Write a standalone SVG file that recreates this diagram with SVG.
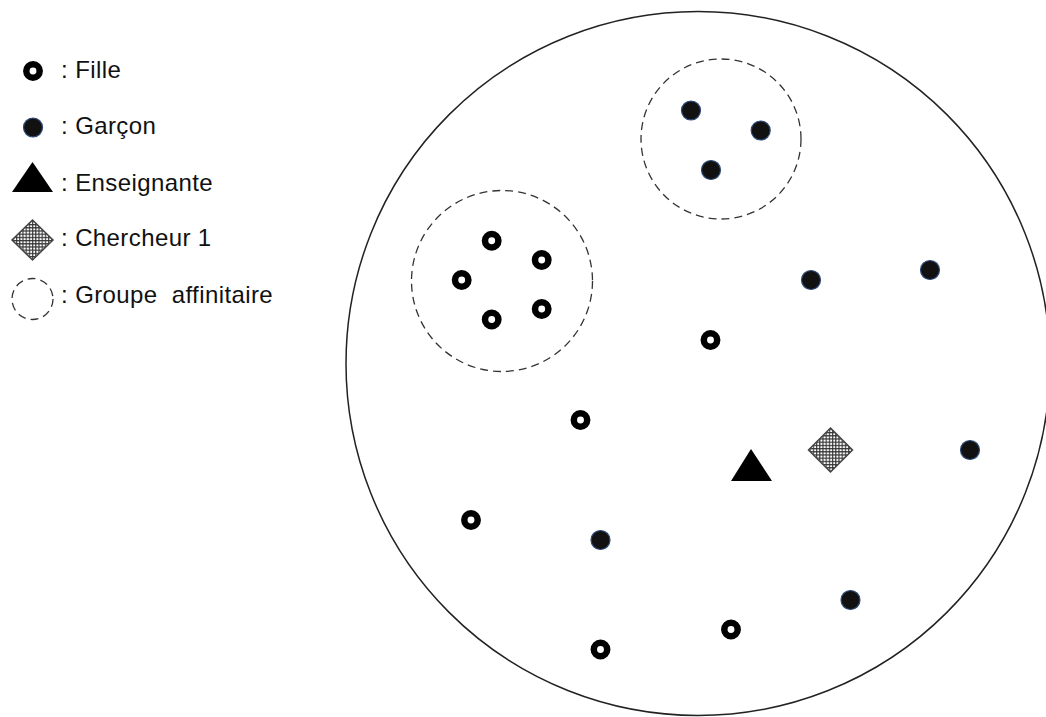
<svg xmlns="http://www.w3.org/2000/svg" width="1046" height="717" viewBox="0 0 1046 717">
<style>
.fille{fill:#fff;stroke:#000;stroke-width:6.5}
.garcon{fill:#111;stroke:#2f4a78;stroke-width:1.2}
.ens{fill:#000}
.cherch{fill:url(#hatch);stroke:#444;stroke-width:1.5}
.groupe{fill:none;stroke:#333;stroke-width:1.3;stroke-dasharray:8 5}
.lbl{font-family:"Liberation Sans",Arial,sans-serif;font-size:24px;letter-spacing:0.4px;fill:#111}
</style>
<defs>
<pattern id="hatch" width="3.2" height="3.2" patternUnits="userSpaceOnUse">
<rect width="3.2" height="3.2" fill="#fff"/>
<path d="M0 0.6H3.2M0.6 0V3.2" stroke="#333" stroke-width="1.1"/>
</pattern>
</defs>
<rect width="1046" height="717" fill="#fff"/>
<g id="legend">
<circle class="fille" cx="33" cy="71" r="6.7"/>
<text class="lbl" x="61" y="78">: Fille</text>
<circle class="garcon" cx="33" cy="127.5" r="9.5"/>
<text class="lbl" x="61" y="134">: Garçon</text>
<polygon class="ens" points="12,192 53,192 32.5,162"/>
<text class="lbl" x="61" y="191">: Enseignante</text>
<polygon class="cherch" points="32.5,220 53,240 32.5,260 12,240"/>
<text class="lbl" x="61" y="246">: Chercheur 1</text>
<circle class="groupe" cx="32.5" cy="299" r="20.5"/>
<text class="lbl" x="61" y="303" xml:space="preserve">: Groupe  affinitaire</text>
</g>
<g id="classe">
<circle cx="698" cy="363.5" r="352" fill="none" stroke="#222" stroke-width="1.5"/>
</g>
<g id="groupe1">
<circle class="groupe" cx="502" cy="281" r="90.5"/>
</g>
<g id="groupe2">
<circle class="groupe" cx="721" cy="139" r="80"/>
</g>
<g id="filles">
<circle class="fille" cx="491.7" cy="240.7" r="6.7"/>
<circle class="fille" cx="541.7" cy="260" r="6.7"/>
<circle class="fille" cx="461.7" cy="280" r="6.7"/>
<circle class="fille" cx="541.7" cy="309" r="6.7"/>
<circle class="fille" cx="491.7" cy="319.5" r="6.7"/>
<circle class="fille" cx="710.5" cy="340" r="6.7"/>
<circle class="fille" cx="580.5" cy="420" r="6.7"/>
<circle class="fille" cx="471" cy="520" r="6.7"/>
<circle class="fille" cx="600.5" cy="649.5" r="6.7"/>
<circle class="fille" cx="731" cy="629.5" r="6.7"/>
</g>
<g id="garcons">
<circle class="garcon" cx="691" cy="110.5" r="9.5"/>
<circle class="garcon" cx="760.7" cy="130.5" r="9.5"/>
<circle class="garcon" cx="711" cy="170" r="9.5"/>
<circle class="garcon" cx="811" cy="280" r="9.5"/>
<circle class="garcon" cx="930" cy="270" r="9.5"/>
<circle class="garcon" cx="970" cy="450" r="9.5"/>
<circle class="garcon" cx="600.5" cy="540" r="9.5"/>
<circle class="garcon" cx="850.5" cy="600" r="9.5"/>
</g>
<g id="enseignante">
<polygon class="ens" points="731,481 772,481 751,449"/>
</g>
<g id="chercheur1">
<polygon class="cherch" points="830.5,428 852.5,450 830.5,472 808.5,450"/>
</g>
</svg>
